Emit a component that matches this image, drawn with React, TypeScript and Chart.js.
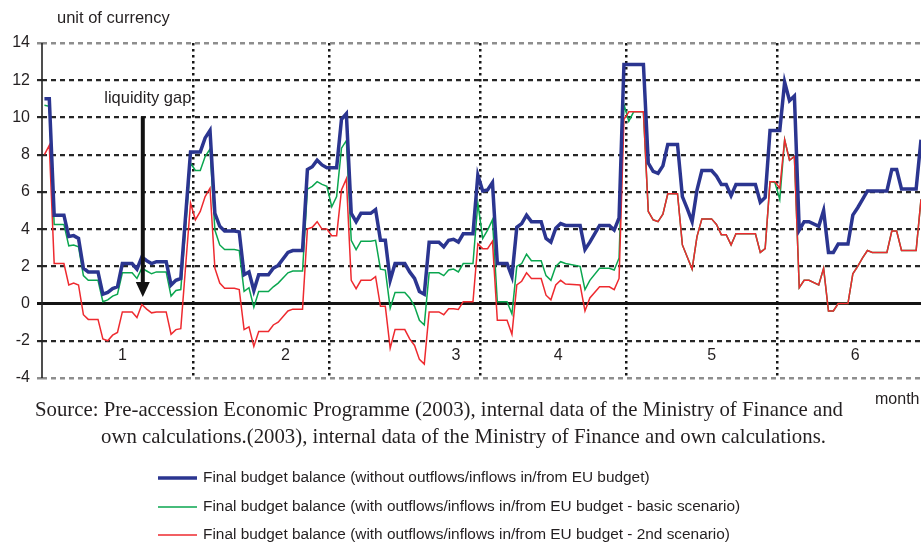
import React, { useEffect, useRef } from 'react';
import { Chart, registerables } from 'chart.js';

Chart.register(...registerables);

// Day index (0 = first day of month 1); only days where a line changes direction are listed
const days = [
  0, 1, 2, 4, 5, 6, 7, 8, 9, 11, 12, 13, 14, 15, 16, 18, 19, 20, 21, 22, 23, 25, 26, 27, 28,
  30, 31, 32, 33, 34, 35, 36, 37, 39, 40, 41, 42, 43, 44, 46, 47, 48, 50, 51, 53, 54, 55, 56, 57,
  58, 59, 60, 61, 62, 63, 64, 65, 67, 68, 69, 70, 71, 72, 74, 75, 76, 77, 78, 79, 81, 82, 83, 84, 85, 86, 88,
  89, 90, 91, 92, 93, 95, 96, 97, 98, 99, 100, 102, 103, 104, 105, 106, 107, 110, 111, 112, 114, 116, 117, 118,
  119, 120, 121, 123, 124, 125, 126, 127, 128, 130, 131, 132, 133, 134, 135, 137, 138, 139, 140, 141, 142, 146, 147, 148, 149,
  150, 151, 152, 153, 154, 155, 156, 157, 159, 160, 161, 162, 163, 165, 166, 167, 168, 169, 170, 173, 174, 175, 176, 179, 180,
];

const balanceWithoutEU = [
  11.0, 11.0, 4.75, 4.75, 3.6, 3.65, 3.5, 1.9, 1.7, 1.7, 0.5, 0.6, 0.8, 0.9, 2.15, 2.15, 1.85, 2.5, 2.3, 2.15, 2.25, 2.25, 1.0, 1.25, 1.35,
  8.15, 8.15, 8.15, 8.9, 9.3, 4.85, 4.15, 3.9, 3.9, 3.85, 1.55, 1.7, 0.7, 1.55, 1.55, 1.9, 2.05, 2.75, 2.85, 2.85, 7.2, 7.35, 7.7, 7.45,
  7.3, 7.3, 7.3, 9.9, 10.2, 4.85, 4.4, 4.85, 4.85, 5.05, 3.4, 3.4, 1.25, 2.15, 2.15, 1.7, 1.35, 0.65, 0.5, 3.3, 3.3, 3.05, 3.4, 3.45, 3.3, 3.75, 3.75,
  6.9, 6.05, 6.1, 6.5, 2.15, 2.15, 1.45, 4.1, 4.3, 4.75, 4.4, 4.4, 3.5, 3.3, 4.05, 4.3, 4.2, 4.2, 2.9, 3.3, 4.2, 4.2, 3.95, 4.6,
  12.85, 12.85, 12.85, 12.85, 7.55, 7.1, 7.0, 7.4, 8.55, 8.55, 5.75, 5.1, 4.4, 6.1, 7.15, 7.15, 6.85, 6.4, 6.4, 5.8, 6.4, 6.4, 5.45, 5.7, 9.3,
  9.3, 9.3, 11.9, 10.9, 11.15, 3.95, 4.4, 4.4, 4.15, 5.0, 2.75, 2.75, 3.2, 3.2, 4.75, 5.15, 5.6, 6.05, 6.05, 6.05, 7.2, 7.2, 6.15, 6.15, 8.8,
];

const balanceBasic = [
  10.65, 10.6, 4.25, 4.25, 3.1, 3.15, 3.05, 1.5, 1.25, 1.25, 0.1, 0.2, 0.4, 0.5, 1.65, 1.65, 1.35, 1.9, 1.75, 1.6, 1.7, 1.7, 0.4, 0.7, 0.75,
  7.55, 7.15, 7.15, 7.9, 8.3, 3.95, 3.15, 2.9, 2.9, 2.85, 0.65, 0.85, -0.2, 0.65, 0.65, 0.9, 1.1, 1.65, 1.75, 1.75, 6.15, 6.3, 6.55, 6.4,
  6.3, 5.2, 5.75, 8.35, 8.75, 3.4, 2.9, 3.35, 3.35, 3.4, 1.85, 1.8, -0.25, 0.6, 0.6, 0.3, -0.15, -0.9, -1.15, 1.65, 1.65, 1.5, 1.8, 1.85, 1.7, 2.15, 2.15,
  5.4, 3.5, 3.95, 4.5, 0.1, 0.1, -0.55, 2.0, 2.15, 2.65, 2.3, 2.3, 1.5, 1.25, 2.0, 2.25, 2.15, 2.0, 0.75, 1.25, 1.9, 1.9, 1.8, 2.45,
  10.7, 9.8, 10.3, 10.3, 4.95, 4.5, 4.4, 4.8, 5.9, 5.9, 3.15, 2.5, 1.85, 3.6, 4.55, 4.55, 4.25, 3.7, 3.7, 3.15, 3.75, 3.75, 2.75, 2.95, 6.55,
  6.5, 5.6, 8.8, 7.7, 7.9, 0.85, 1.25, 1.25, 1.0, 1.9, -0.4, -0.4, 0.0, 0.0, 1.6, 2.0, 2.45, 2.85, 2.75, 2.75, 3.9, 3.9, 2.85, 2.85, 5.6,
];

const balanceSecond = [
  8.0, 8.5, 2.15, 2.15, 1.0, 1.1, 1.0, -0.6, -0.85, -0.85, -1.9, -2.0, -1.7, -1.55, -0.45, -0.45, -0.75, -0.05, -0.3, -0.5, -0.45, -0.45, -1.65, -1.4, -1.35,
  5.4, 4.5, 4.95, 5.75, 6.2, 1.9, 1.1, 0.82, 0.82, 0.75, -1.4, -1.25, -2.3, -1.5, -1.5, -1.15, -1.0, -0.4, -0.3, -0.3, 4.0, 4.1, 4.4, 4.0,
  4.0, 3.65, 3.65, 6.1, 6.7, 1.25, 0.8, 1.25, 1.25, 1.45, -0.15, -0.15, -2.4, -1.4, -1.4, -1.9, -2.25, -3.0, -3.25, -0.45, -0.45, -0.6, -0.28, -0.28, -0.32, 0.1, 0.1,
  3.2, 2.95, 2.95, 3.35, -0.9, -0.9, -1.65, 1.0, 1.2, 1.65, 1.35, 1.35, 0.45, 0.2, 1.0, 1.25, 1.05, 1.0, -0.4, 0.3, 0.9, 0.9, 0.75, 1.35,
  9.9, 10.3, 10.3, 10.3, 4.95, 4.5, 4.4, 4.8, 5.9, 5.9, 3.15, 2.5, 1.85, 3.6, 4.55, 4.55, 4.25, 3.7, 3.7, 3.15, 3.75, 3.75, 2.75, 2.95, 6.55,
  6.55, 6.2, 8.8, 7.7, 7.9, 0.85, 1.25, 1.25, 1.0, 1.9, -0.4, -0.4, 0.0, 0.0, 1.6, 2.0, 2.45, 2.85, 2.75, 2.75, 3.9, 3.9, 2.85, 2.85, 5.6,
];

const seriesLabels = [
  'Final budget balance (without outflows/inflows in/from EU budget)',
  'Final budget balance (with outflows/inflows in/from EU budget - basic scenario)',
  'Final budget balance (with outflows/inflows in/from EU budget - 2nd scenario)',
];
const seriesColors = ['#2b3590', '#0aa64f', '#ee2a2f'];
const seriesWidths = [3.5, 1.5, 1.5];

const monthBoundaries = [30.5, 58.5, 89.5, 119.5, 150.5];
const monthLabels = ['1', '2', '3', '4', '5', '6'];
const monthLabelDays = [16, 49.5, 84.5, 105.5, 137, 166.5];
const monthLabelValue = -2.78;

const yMin = -4;
const yMax = 14;
const yStep = 2;

const annotationText = 'liquidity gap';
const arrowDay = 20.2;
const arrowFromValue = 10.05;
const arrowToValue = 0.35;

const yAxisTitle = 'unit of currency';
const xAxisTitle = 'month';
const sourceLines = [
  'Source: Pre-accession Economic Programme (2003), internal data of the Ministry of Finance and',
  'own calculations.(2003), internal data of the Ministry of Finance and own calculations.',
];

const SANS = "'Liberation Sans', Arial, Helvetica, sans-serif";
const SERIF = "'Liberation Serif', 'Times New Roman', serif";
const TEXT = '#231f20';

const decorations = {
  id: 'decorations',
  beforeDatasetsDraw(chart: any) {
    const { ctx, chartArea: a, scales } = chart;
    const x = scales.x;
    const y = scales.y;
    ctx.save();
    ctx.setLineDash([]);
    // zero line
    const y0 = y.getPixelForValue(0);
    ctx.strokeStyle = '#141414';
    ctx.lineWidth = 3;
    ctx.beginPath();
    ctx.moveTo(a.left - 5, y0);
    ctx.lineTo(a.right, y0);
    ctx.stroke();
    // left axis
    ctx.lineWidth = 1.6;
    ctx.strokeStyle = '#222';
    ctx.beginPath();
    ctx.moveTo(a.left, a.top);
    ctx.lineTo(a.left, a.bottom);
    ctx.stroke();
    // month numbers
    ctx.fillStyle = TEXT;
    ctx.font = `16px ${SANS}`;
    ctx.textAlign = 'center';
    ctx.textBaseline = 'middle';
    monthLabels.forEach((t, i) => {
      ctx.fillText(t, x.getPixelForValue(monthLabelDays[i]), y.getPixelForValue(monthLabelValue));
    });
    ctx.restore();
  },
  afterDatasetsDraw(chart: any) {
    const { ctx, scales } = chart;
    const x = scales.x;
    const y = scales.y;
    ctx.save();
    ctx.setLineDash([]);
    // arrow
    const ax = x.getPixelForValue(arrowDay);
    const top = y.getPixelForValue(arrowFromValue);
    const tip = y.getPixelForValue(arrowToValue);
    ctx.strokeStyle = '#111';
    ctx.fillStyle = '#111';
    ctx.lineWidth = 4;
    ctx.beginPath();
    ctx.moveTo(ax, top);
    ctx.lineTo(ax, tip - 12);
    ctx.stroke();
    ctx.beginPath();
    ctx.moveTo(ax - 7, tip - 15);
    ctx.lineTo(ax + 7, tip - 15);
    ctx.lineTo(ax, tip);
    ctx.closePath();
    ctx.fill();
    // annotation text
    ctx.fillStyle = TEXT;
    ctx.font = `16.5px ${SANS}`;
    ctx.textAlign = 'center';
    ctx.textBaseline = 'middle';
    ctx.fillText(annotationText, ax + 5, top - 18);
    // axis titles
    ctx.textAlign = 'left';
    ctx.fillText(yAxisTitle, 57, 18);
    ctx.font = `16px ${SANS}`;
    ctx.fillText(xAxisTitle, 875, 400);
    // source
    ctx.font = `21px ${SERIF}`;
    ctx.textBaseline = 'alphabetic';
    ctx.fillText(sourceLines[0], 35, 416, 808);
    ctx.fillText(sourceLines[1], 101, 443, 725);
    // legend
    const legendY = [478, 507, 535];
    ctx.font = `15.4px ${SANS}`;
    ctx.textBaseline = 'middle';
    seriesLabels.forEach((label, i) => {
      ctx.strokeStyle = seriesColors[i];
      ctx.lineWidth = seriesWidths[i];
      ctx.beginPath();
      ctx.moveTo(158, legendY[i]);
      ctx.lineTo(197, legendY[i]);
      ctx.stroke();
      ctx.fillStyle = TEXT;
      ctx.fillText(label, 203, legendY[i]);
    });
    ctx.restore();
  },
};

export default function App() {
  const ref = useRef<HTMLCanvasElement>(null);
  useEffect(() => {
    const canvas = ref.current;
    if (!canvas) return;
    const series = [balanceWithoutEU, balanceBasic, balanceSecond];
    const orders = [0, 2, 1];
    const chart = new Chart(canvas, {
      type: 'line',
      data: {
        datasets: series.map((vals, i) => ({
          label: seriesLabels[i],
          data: days.map((d, j) => ({ x: d, y: vals[j] })),
          borderColor: seriesColors[i],
          backgroundColor: seriesColors[i],
          borderWidth: seriesWidths[i],
          pointRadius: 0,
          tension: 0,
          fill: false,
          order: orders[i],
        })),
      },
      options: {
        responsive: false,
        animation: false,
        devicePixelRatio: 1,
        layout: { padding: { left: 0, right: 0, top: 43, bottom: 164 } },
        plugins: {
          legend: { display: false },
          tooltip: { enabled: false },
        },
        scales: {
          x: {
            type: 'linear',
            min: -0.5,
            max: 180,
            afterBuildTicks: (s: any) => {
              s.ticks = monthBoundaries.map((v) => ({ value: v }));
            },
            afterFit: (s: any) => {
              s.height = 0;
            },
            ticks: { display: false },
            grid: { color: '#161616', lineWidth: 2.5, drawTicks: false },
            border: { display: false, dash: [2.5, 3.5] },
          },
          y: {
            min: yMin,
            max: yMax,
            afterFit: (s: any) => {
              s.width = 42;
            },
            ticks: {
              stepSize: yStep,
              color: TEXT,
              padding: 7,
              font: { family: SANS, size: 16 },
            },
            grid: {
              color: (c: any) => (c.tick && (c.tick.value === yMax || c.tick.value === yMin) ? '#8e8e8e' : '#262626'),
              lineWidth: (c: any) => (c.tick && (c.tick.value === yMax || c.tick.value === yMin) ? 2.5 : 2.2),
              tickLength: 5,
            },
            border: { display: false, dash: [5, 4] },
          },
        },
      },
      plugins: [decorations],
    } as any);
    return () => chart.destroy();
  }, []);
  return (
    <div style={{ position: 'absolute', left: 0, top: 0, width: 921, height: 542, background: '#fff', overflow: 'hidden' }}>
      <canvas ref={ref} width={921} height={542} style={{ display: 'block' }} />
    </div>
  );
}
